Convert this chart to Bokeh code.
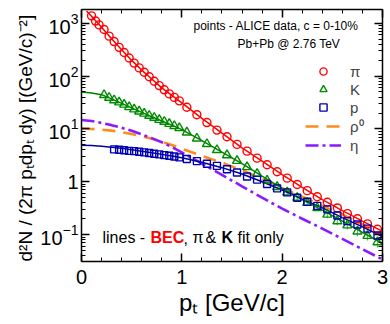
import math
from bokeh.plotting import figure
from bokeh.models import (Range1d, FixedTicker, LinearAxis, LogAxis, Label,
                          Legend, LegendItem, CustomLabelingPolicy)
from bokeh.embed import file_html
from bokeh.resources import INLINE

# ---------------- data ----------------
pi_pt = [0.10, 0.14, 0.175, 0.225, 0.275, 0.325, 0.375, 0.425, 0.475, 0.525,
         0.575, 0.625, 0.675, 0.725, 0.775, 0.825, 0.875, 0.925, 0.975,
         1.05, 1.15, 1.25, 1.35, 1.45, 1.55, 1.65, 1.75, 1.85, 1.95,
         2.05, 2.15, 2.25, 2.35, 2.45, 2.55, 2.65, 2.75, 2.85, 2.95]
pi_val = [1380, 1100, 930, 760, 570, 450, 350, 280, 220, 176,
          143, 118, 97, 80, 66, 55, 46, 39.5, 34,
          25.7, 18.6, 13.2, 9.5, 7.1, 5.1, 3.8, 2.8, 2.1, 1.55,
          1.17, 0.89, 0.68, 0.52, 0.41, 0.32, 0.25, 0.20, 0.16, 0.126]

k_pt = [0.225, 0.275, 0.325, 0.375, 0.425, 0.475, 0.525, 0.575, 0.625, 0.675,
        0.725, 0.775, 0.825, 0.875, 0.925, 0.975,
        1.05, 1.15, 1.25, 1.35, 1.45, 1.55, 1.65, 1.75, 1.85, 1.95,
        2.05, 2.15, 2.25, 2.35, 2.45, 2.55, 2.65, 2.75, 2.85, 2.95]
k_val = [44, 39, 35, 32, 29, 26, 23.5, 21.5, 19.6, 17.8,
         16.3, 14.9, 13.7, 12.5, 11.4, 10.4,
         8.6, 6.6, 5.2, 4.0, 3.2, 2.5, 1.9, 1.42, 1.06, 0.80,
         0.63, 0.50, 0.40, 0.32, 0.24, 0.18, 0.15, 0.115, 0.095, 0.072]
k_err_pt = [2.05, 2.15, 2.25, 2.35, 2.45, 2.55, 2.65, 2.75, 2.85, 2.95]
k_err_val = [0.63, 0.50, 0.40, 0.32, 0.24, 0.18, 0.15, 0.115, 0.095, 0.072]
k_err = [0.06, 0.05, 0.045, 0.04, 0.035, 0.03, 0.025, 0.022, 0.018, 0.015]

p_pt = [0.325, 0.375, 0.425, 0.475, 0.525, 0.575, 0.625, 0.675, 0.725, 0.775,
        0.825, 0.875, 0.925, 0.975,
        1.05, 1.15, 1.25, 1.35, 1.45, 1.55, 1.65, 1.75, 1.85, 1.95,
        2.05, 2.15, 2.25, 2.35, 2.45, 2.55, 2.65, 2.75, 2.85, 2.95]
p_val = [4.1, 4.05, 3.95, 3.85, 3.8, 3.7, 3.6, 3.5, 3.4, 3.3,
         3.2, 3.1, 3.0, 2.9,
         2.7, 2.46, 2.2, 2.0, 1.73, 1.5, 1.26, 1.1, 0.91, 0.75,
         0.63, 0.50, 0.42, 0.35, 0.30, 0.23, 0.18, 0.155, 0.13, 0.096]

# BEC model curves
pi_fit_pt = [0.05, 0.1, 0.2, 0.3, 0.4, 0.5, 0.6, 0.7, 0.8, 0.9, 1.0,
             1.2, 1.4, 1.6, 1.8, 2.0, 2.2, 2.4, 2.6, 2.8, 3.0]
pi_fit = [1700, 1350, 840, 510, 315, 198, 130, 88, 60, 43, 31,
          15.8, 8.3, 4.4, 2.45, 1.36, 0.78, 0.46, 0.285, 0.18, 0.115]

fit_pt = [0.0, 0.1, 0.2, 0.3, 0.4, 0.5, 0.6, 0.7, 0.8, 0.9, 1.0,
          1.2, 1.4, 1.6, 1.8, 2.0, 2.2, 2.4, 2.6, 2.8, 3.0]
k_fit = [50, 48, 44.5, 37, 30.5, 25, 20.6, 17, 14.2, 11.8, 9.7,
         6.0, 3.65, 2.2, 1.28, 0.75, 0.46, 0.29, 0.18, 0.11, 0.068]
p_fit = [4.9, 4.85, 4.7, 4.5, 4.3, 4.05, 3.8, 3.55, 3.3, 3.08, 2.85,
         2.35, 1.85, 1.4, 1.0, 0.7, 0.47, 0.32, 0.21, 0.14, 0.092]
rho_fit = [10.2, 10.0, 9.7, 9.3, 8.7, 8.0, 7.3, 6.5, 5.7, 4.95, 4.2,
           3.1, 2.3, 1.65, 1.12, 0.76, 0.52, 0.35, 0.24, 0.155, 0.10]
eta_fit = [14.8, 14.1, 13.0, 11.8, 10.5, 9.2, 7.9, 6.7, 5.6, 4.55, 3.6,
           2.2, 1.35, 0.82, 0.50, 0.31, 0.20, 0.13, 0.083, 0.053, 0.034]

x_major = [0, 1, 2, 3]
y_major = [0.1, 1, 10, 100, 1000]

RED, GREEN, BLUE = "#ff0000", "#008a00", "#0000b4"
GREEN_L, BLUE_L = "#008000", "#00009a"
ORANGE, PURPLE = "#ff8c1a", "#8c1aff"
FONT = "Liberation Sans"

# ---------------- figure ----------------
p = figure(frame_width=301, frame_height=252, y_axis_type="log",
           x_range=Range1d(0, 3), y_range=Range1d(0.031, 1820),
           output_backend="svg", toolbar_location=None,
           min_border_left=81, min_border_right=8, min_border_top=9,
           min_border_bottom=63)
p.xgrid.visible = False
p.ygrid.visible = False
p.outline_line_color = None
p.background_fill_color = "white"
p.border_fill_color = "white"

xt = FixedTicker(ticks=x_major, minor_ticks=[0.2 * i for i in range(16)])
yt = FixedTicker(ticks=y_major,
                 minor_ticks=[m * 10.0 ** e for e in range(-2, 4) for m in range(2, 10)])

no_labels = CustomLabelingPolicy(code="return new Set()")


def style_axis(ax, show_labels):
    ax.major_tick_in = 8
    ax.major_tick_out = 0
    ax.minor_tick_in = 4
    ax.minor_tick_out = 0
    ax.axis_line_width = 1.5
    ax.axis_line_color = "black"
    ax.major_tick_line_width = 1.5
    ax.minor_tick_line_width = 1
    ax.major_tick_line_color = "black"
    ax.minor_tick_line_color = "black"
    if show_labels:
        ax.major_label_text_font = FONT
        ax.major_label_text_font_size = "20px"
        ax.major_label_text_color = "black"
        ax.axis_label_text_font = FONT
        ax.axis_label_text_font_style = "normal"
        ax.axis_label_text_color = "black"
    else:
        ax.major_label_text_font_size = "1px"
        ax.major_label_standoff = 0
        ax.major_label_policy = no_labels


xa = p.xaxis[0]
xa.ticker = xt
style_axis(xa, True)
xa.major_label_standoff = 8
xa.axis_label = "pₜ [GeV/c]"
xa.axis_label_text_font_size = "24px"
xa.axis_label_standoff = 2
try:
    xa.axis_label_align = "right"
except Exception:
    pass

ya = p.yaxis[0]
ya.ticker = yt
style_axis(ya, True)
ya.major_label_standoff = 3
ya.major_label_overrides = {1: "1"}
ya.axis_label = "d²N / (2π pₜdpₜ dy)  [(GeV/c)⁻²]"
ya.axis_label_text_font_size = "19px"
ya.axis_label_standoff = 1

top = LinearAxis(ticker=xt)
style_axis(top, False)
p.add_layout(top, "above")
right = LogAxis(ticker=yt)
style_axis(right, False)
p.add_layout(right, "right")

# ---------------- glyphs ----------------
r_rho = p.line(fit_pt, rho_fit, line_color=ORANGE, line_width=2.6, line_dash="13 8")
r_eta = p.line(fit_pt, eta_fit, line_color=PURPLE, line_width=2.6, line_dash="13 4 3 4")

p.segment(x0=k_err_pt, y0=[v - e for v, e in zip(k_err_val, k_err)],
          x1=k_err_pt, y1=[v + e for v, e in zip(k_err_val, k_err)],
          line_color="#5cb85c", line_width=1.2)

p.line(pi_fit_pt, pi_fit, line_color=RED, line_width=1.5)
p.line(fit_pt, k_fit, line_color=GREEN_L, line_width=1.5)
p.line(fit_pt, p_fit, line_color=BLUE_L, line_width=1.5)

r_pi = p.scatter(pi_pt, pi_val, marker="circle", size=8, fill_color=None,
                 line_color=RED, line_width=1.4)
r_k = p.scatter(k_pt, k_val, marker="triangle", size=9, fill_color=None,
                line_color=GREEN, line_width=1.4)
r_p = p.scatter(p_pt, p_val, marker="square", size=7, fill_color=None,
                line_color=BLUE, line_width=1.4)

legend = Legend(items=[LegendItem(label="π", renderers=[r_pi]),
                       LegendItem(label="K", renderers=[r_k]),
                       LegendItem(label="p", renderers=[r_p]),
                       LegendItem(label="ρ⁰", renderers=[r_rho]),
                       LegendItem(label="η", renderers=[r_eta])],
                location=(224, 107), orientation="vertical",
                glyph_width=36, glyph_height=18, label_height=18,
                label_standoff=9, spacing=0, padding=0, margin=0,
                border_line_color=None, background_fill_alpha=0,
                label_text_font=FONT, label_text_font_size="15px")
p.add_layout(legend)

# ---------------- texts inside the frame ----------------
FL, FB = 81, 261  # frame left / bottom in page pixels


def lab(text, X, Y, size, **kw):
    kw.setdefault("text_baseline", "middle")
    p.add_layout(Label(x=X - FL, y=FB - Y, x_units="screen", y_units="screen",
                       text=text, text_font=FONT, text_font_size=f"{size}px",
                       text_color=kw.pop("color", "black"), **kw))


lab("points - ALICE data, c = 0-10%", 193, 25, 12)
lab("Pb+Pb @ 2.76 TeV", 237, 43, 12)

lab("lines -", 102, 237, 16)
lab("BEC", 150, 237, 16, color=RED, text_font_style="bold")
lab(",", 183, 237, 16)
lab("π", 192, 237, 16)
lab("&", 205, 237, 16)
lab("K", 221, 237, 16, text_font_style="bold")
lab("fit only", 237, 237, 16)

open("out.html", "w").write(file_html(p, INLINE))
